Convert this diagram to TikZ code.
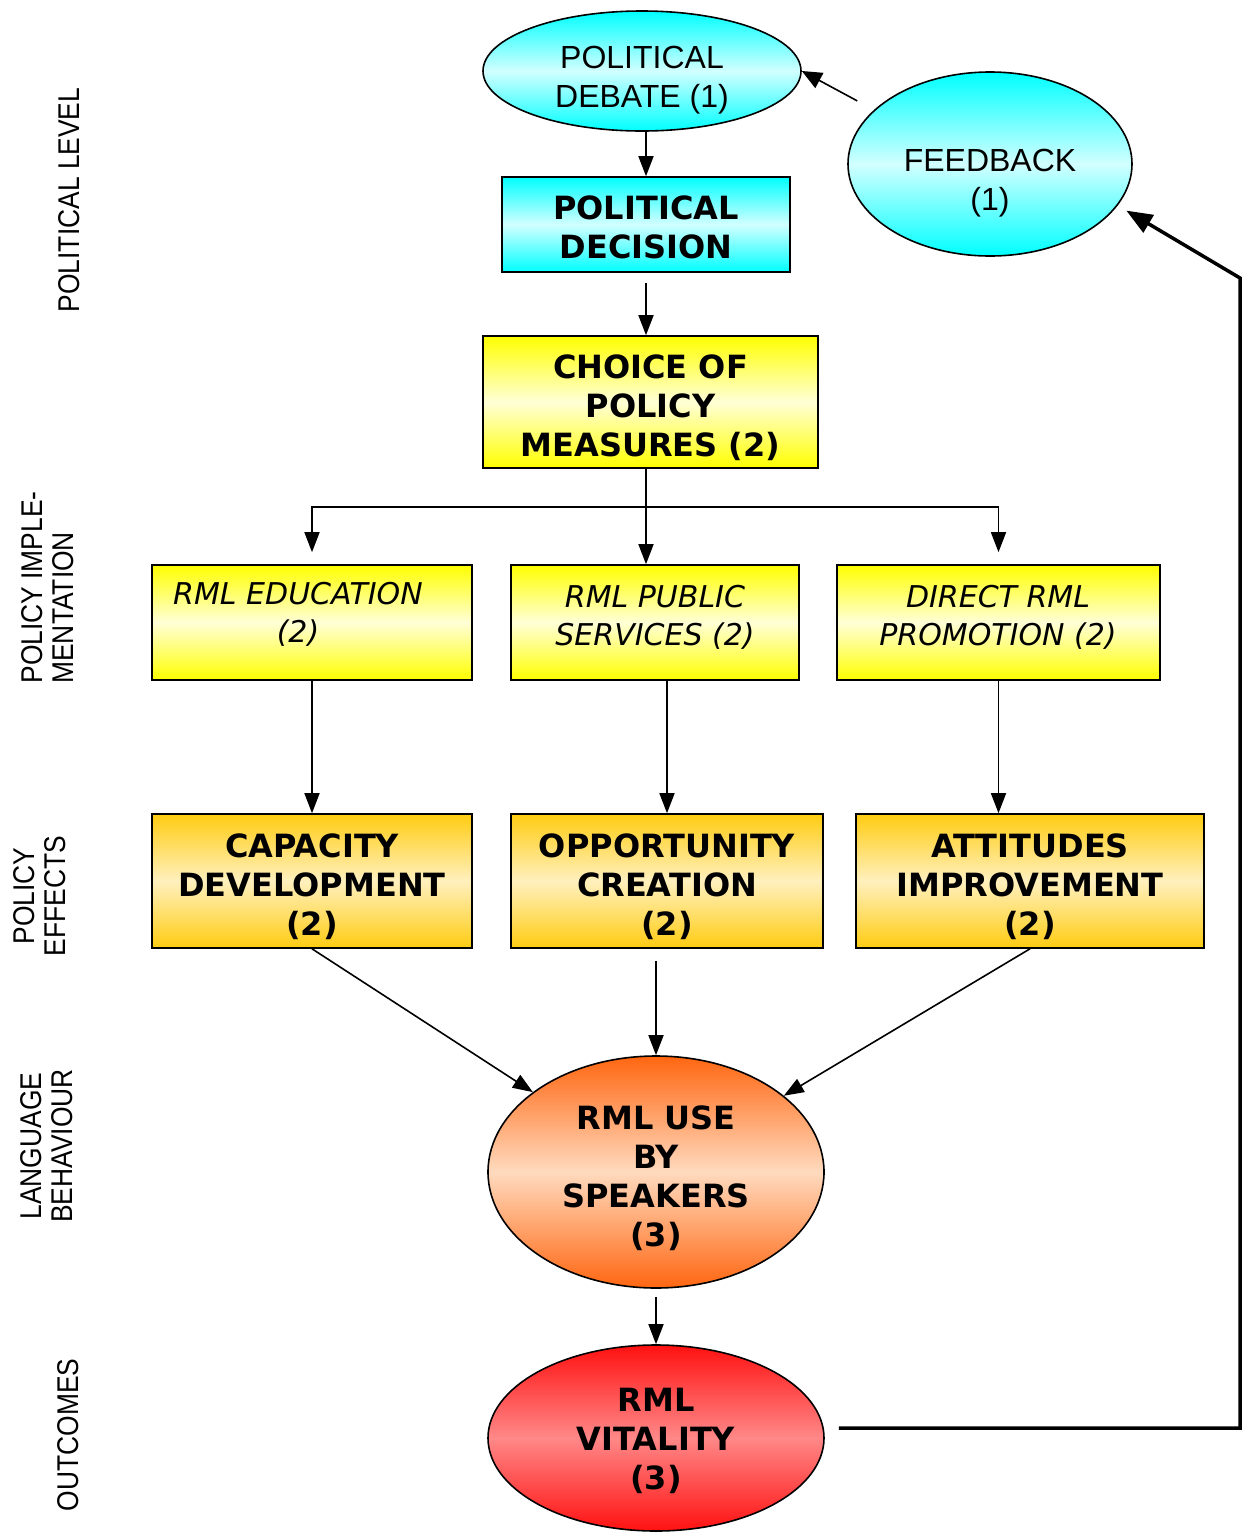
\documentclass[tikz,border=0pt]{standalone}
\usepackage{fontspec}
\setmainfont{DejaVu Sans}
\newfontfamily\arialf{Liberation Sans}
\newfontfamily\sidef[FakeStretch=0.88]{Liberation Sans}
\usetikzlibrary{shapes.geometric,arrows.meta}
\definecolor{cyanT}{RGB}{0,255,255}
\definecolor{cyanM}{RGB}{210,255,255}
\definecolor{yelT}{RGB}{255,255,0}
\definecolor{yelM}{RGB}{255,255,215}
\definecolor{orgT}{RGB}{255,204,17}
\definecolor{orgM}{RGB}{255,240,190}
\definecolor{useT}{RGB}{255,102,17}
\definecolor{useM}{RGB}{255,218,190}
\definecolor{vitT}{RGB}{255,17,17}
\definecolor{vitM}{RGB}{255,136,136}
\tikzset{
  shp/.style={draw=black, line width=1.6pt, inner sep=0pt, align=center},
  bx/.style={shp, rectangle},
  ell/.style={shp, ellipse},
  cyanfill/.style={top color=cyanT, bottom color=cyanT, middle color=cyanM},
  yelfill/.style={top color=yelT, bottom color=yelT, middle color=yelM},
  orgfill/.style={top color=orgT, bottom color=orgT, middle color=orgM},
  usefill/.style={top color=useT, bottom color=useT, middle color=useM},
  vitfill/.style={top color=vitT, bottom color=vitT, middle color=vitM},
  bt/.style={font=\fontsize{32}{39}\selectfont\bfseries, align=center, inner sep=0pt},
  reg/.style={font=\arialf\fontsize{32}{39}\selectfont, align=center, inner sep=0pt},
  ital/.style={font=\fontsize{30}{38}\selectfont\itshape, align=center, inner sep=0pt},
  sidelbl/.style={font=\sidef\fontsize{30}{31}\selectfont, rotate=90, align=center, inner sep=0pt},
  arr/.style={-{Triangle[length=20pt,width=15pt]}, line width=1.6pt},
  fbarr/.style={-{Triangle[length=26pt,width=20pt]}, line width=3.5pt, line join=miter},
}
\begin{document}
\begin{tikzpicture}[x=1pt,y=-1pt]
\useasboundingbox (0,0) rectangle (1247,1532);

% side labels
\node[sidelbl] (l1) at (69,200) {POLITICAL LEVEL};
\node[sidelbl, align=left] (l2) at (47.5,587.5) {POLICY IMPLE-\\MENTATION};
\node[sidelbl] (l3) at (40,896) {POLICY\\EFFECTS};
\node[sidelbl] (l4) at (47,1146) {LANGUAGE\\BEHAVIOUR};
\node[sidelbl] (l5) at (68,1435) {OUTCOMES};

% shapes
\node[ell, cyanfill, minimum width=318pt, minimum height=120pt] (debate) at (642,71) {};
\node[ell, cyanfill, minimum width=284pt, minimum height=184pt] (fb) at (990,164) {};
\node[bx, cyanfill, minimum width=288pt, minimum height=95pt] (decision) at (646,224.5) {};
\node[bx, yelfill, minimum width=335pt, minimum height=132pt] (choice) at (650.5,402) {};
\node[bx, yelfill, minimum width=320pt, minimum height=115pt] (edu) at (312,622.5) {};
\node[bx, yelfill, minimum width=288pt, minimum height=115pt] (pub) at (655,622.5) {};
\node[bx, yelfill, minimum width=323pt, minimum height=115pt] (dir) at (998.5,622.5) {};
\node[bx, orgfill, minimum width=320pt, minimum height=134pt] (cap) at (312,881) {};
\node[bx, orgfill, minimum width=312pt, minimum height=134pt] (opp) at (667,881) {};
\node[bx, orgfill, minimum width=348pt, minimum height=134pt] (att) at (1030,881) {};
\node[ell, usefill, minimum width=336pt, minimum height=232pt] (use) at (656,1172) {};
\node[ell, vitfill, minimum width=336pt, minimum height=186pt] (vit) at (656,1438) {};

% texts
\node[reg] (debate-t) at (642,80.5) {POLITICAL\\DEBATE (1)};
\node[reg] (fb-t) at (990,183) {FEEDBACK\\(1)};
\node[bt] (decision-t) at (646,227.5) {POLITICAL\\DECISION};
\node[bt] (choice-t) at (650.5,408) {CHOICE OF\\POLICY\\MEASURES (2)};
\node[ital] (edu-t) at (298,614) {RML EDUCATION\\(2)};
\node[ital] (pub-t) at (655,617) {RML PUBLIC\\SERVICES (2)};
\node[ital] (dir-t) at (998,617) {DIRECT RML\\PROMOTION (2)};
\node[bt] (cap-t) at (312,887) {CAPACITY\\DEVELOPMENT\\(2)};
\node[bt] (opp-t) at (667,887) {OPPORTUNITY\\CREATION\\(2)};
\node[bt] (att-t) at (1030,887) {ATTITUDES\\IMPROVEMENT\\(2)};
\node[bt] (use-t) at (656,1178) {RML USE\\BY\\SPEAKERS\\(3)};
\node[bt] (vit-t) at (656,1441) {RML\\VITALITY\\(3)};

% coordinates
\coordinate (split) at (646,507);
\coordinate (c1) at (1240,1428);
\coordinate (c2) at (1240,278);

% connectors
\draw[arr] (decision.north |- debate.south) -- (decision.north);
\draw[arr, shorten <=10pt] (decision.south) -- (decision.south |- choice.north);
\draw[line width=1.6pt] (split |- choice.south) -- (split);
\draw[arr, shorten >=12pt] (split) -| (edu.north);
\draw[arr, shorten >=12pt] (split) -| (dir.north);
\draw[arr] (split) -- (split |- pub.north);
\draw[arr] (edu.south) -- (edu.south |- cap.north);
\draw[arr] (opp.north |- pub.south) -- (opp.north);
\draw[arr] (dir.south) -- (dir.south |- att.north);
\draw[arr] (cap.south) -- (use);
\draw[arr, shorten <=12pt] (use.north |- opp.south) -- (use.north);
\draw[arr] (att.south) -- (use);
\draw[arr, shorten <=8pt] (use.south) -- (vit.north);
\draw[fbarr, shorten <=14pt, shorten >=10pt] (vit.east |- c1) -- (c1) -- (c2) -- (fb.-18);
\draw[-{Triangle[length=20pt,width=17pt]}, line width=1.6pt, shorten <=19pt] (fb.155) -- (debate.east);
\end{tikzpicture}
\end{document}
